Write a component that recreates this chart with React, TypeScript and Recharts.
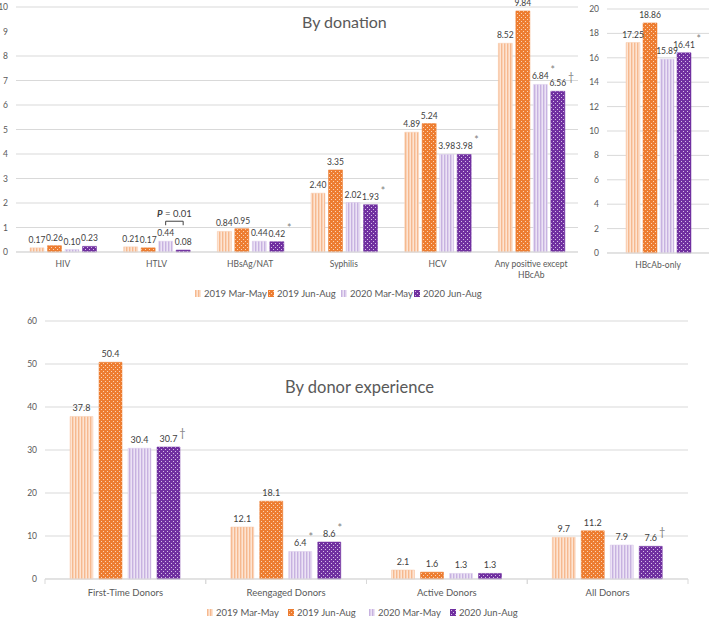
import React from "react";
import { BarChart, Bar, XAxis, YAxis, CartesianGrid, LabelList } from "recharts";

const seriesNames = ["2019 Mar-May", "2019 Jun-Aug", "2020 Mar-May", "2020 Jun-Aug"];

// by donation
const donationCats = ["HIV", "HTLV", "HBsAg/NAT", "Syphilis", "HCV", "Any positive except HBcAb"];
const don2019MarMay = [0.17, 0.21, 0.84, 2.4, 4.89, 8.52];
const don2019JunAug = [0.26, 0.17, 0.95, 3.35, 5.24, 9.84];
const don2020MarMay = [0.1, 0.44, 0.44, 2.02, 3.98, 6.84];
const don2020JunAug = [0.23, 0.08, 0.42, 1.93, 3.98, 6.56];
const donMarks2020MarMay = ["", "", "", "", "", "*"];
const donMarks2020JunAug = ["", "", "*", "*", "*", "†"];
const donTicks = [0, 1, 2, 3, 4, 5, 6, 7, 8, 9, 10];

// HBcAb-only panel
const hbcCats = ["HBcAb-only"];
const hbc2019MarMay = [17.25];
const hbc2019JunAug = [18.86];
const hbc2020MarMay = [15.89];
const hbc2020JunAug = [16.41];
const hbcMarks2020JunAug = ["*"];
const hbcTicks = [0, 2, 4, 6, 8, 10, 12, 14, 16, 18, 20];

// by donor experience
const expCats = ["First-Time Donors", "Reengaged Donors", "Active Donors", "All Donors"];
const exp2019MarMay = [37.8, 12.1, 2.1, 9.7];
const exp2019JunAug = [50.4, 18.1, 1.6, 11.2];
const exp2020MarMay = [30.4, 6.4, 1.3, 7.9];
const exp2020JunAug = [30.7, 8.6, 1.3, 7.6];
const expMarks2020MarMay = ["", "*", "", ""];
const expMarks2020JunAug = ["†", "*", "", "†"];
const expTicks = [0, 10, 20, 30, 40, 50, 60];

const noMarks: string[] = [];

const fills = ["url(#pPeach)", "url(#pOrange)", "url(#pLav)", "url(#pPurple)"];
const strokes = ["#f8cbad", "#ed7d31", "#d9c8ea", "#7030a0"];

const buildRows = (cats: string[], a: number[], b: number[], c: number[], d: number[]) =>
  cats.map((name, i) => ({ name, s0: a[i], s1: b[i], s2: c[i], s3: d[i] }));

const donRows = buildRows(donationCats, don2019MarMay, don2019JunAug, don2020MarMay, don2020JunAug);
const hbcRows = buildRows(hbcCats, hbc2019MarMay, hbc2019JunAug, hbc2020MarMay, hbc2020JunAug);
const expRows = buildRows(expCats, exp2019MarMay, exp2019JunAug, exp2020MarMay, exp2020JunAug);

const font = "Lato, 'Noto Sans', sans-serif";
const textGray = "#595959";
const labelGray = "#404040";

function makeLabel(marks: string[], digits: number, size: number, bracket?: { index: number; gap: number }) {
  return (props: any) => {
    const { x, y, width, value, index } = props;
    const cx = Number(x) + Number(width) / 2;
    const top = Number(y);
    const txt = Number(value).toFixed(digits);
    const mark = marks[index] || "";
    const half = txt.length * size * 0.27;
    let br = null;
    if (bracket && bracket.index === index) {
      const x2 = cx + Number(width) + bracket.gap;
      const by = top - 20;
      br = (
        <g>
          <path d={`M${cx},${by + 4}V${by}H${x2}V${by + 4}`} fill="none" stroke={labelGray} strokeWidth={1} />
          <text x={(cx + x2) / 2} y={by - 4} textAnchor="middle" fontSize={size + 1} fill={labelGray}>
            <tspan fontStyle="italic" fontWeight="bold">P</tspan> = 0.01
          </text>
        </g>
      );
    }
    return (
      <g>
        <text x={cx} y={top - 5} textAnchor="middle" fontSize={size} fill={labelGray}>{txt}</text>
        {mark && (
          <text x={cx + half + 1} y={top - 10} fontSize={size + 2} fill="#7f7f7f">{mark}</text>
        )}
        {br}
      </g>
    );
  };
}

// greedy word wrap by estimated width
function wrapWords(s: string, size: number, wrap: number) {
  const words = s.split(" ");
  const lines: string[] = [];
  let cur = "";
  words.forEach((w) => {
    const next = cur ? cur + " " + w : w;
    if (cur && next.length * size * 0.5 > wrap) {
      lines.push(cur);
      cur = w;
    } else {
      cur = next;
    }
  });
  if (cur) lines.push(cur);
  return lines;
}

function WrapTick(props: any) {
  const { x, y, payload, size, wrap, dy, band } = props;
  const lines = wrapWords(String(payload.value), size, wrap);
  return (
    <g>
      {band ? (
        <g>
          <line x1={x - band / 2} x2={x - band / 2} y1={y - 8} y2={y - 3} stroke="#d9d9d9" />
          <line x1={x + band / 2} x2={x + band / 2} y1={y - 8} y2={y - 3} stroke="#d9d9d9" />
        </g>
      ) : null}
      <text x={x} y={y + (dy || 0) + size * 0.9} textAnchor="middle" fontSize={size} fill={textGray}>
        {lines.map((l, i) => (
          <tspan key={i} x={x} dy={i === 0 ? 0 : size * 1.35}>{l}</tspan>
        ))}
      </text>
    </g>
  );
}

function seriesBars(marksC: string[], marksD: string[], digits: number, size: number, bracket?: { index: number; gap: number }) {
  const allMarks = [noMarks, noMarks, marksC, marksD];
  return seriesNames.map((n, i) => (
    <Bar key={n} dataKey={`s${i}`} name={n} fill={fills[i]} stroke={strokes[i]} strokeWidth={0.5} isAnimationActive={false}>
      <LabelList dataKey={`s${i}`} content={makeLabel(allMarks[i], digits, size, i === 2 ? bracket : undefined)} />
    </Bar>
  ));
}

function LegendRow({ left, top, step }: { left: number; top: number; step: number }) {
  return (
    <div style={{ position: "absolute", left, top, display: "flex", alignItems: "center", fontSize: 9.5, color: textGray, whiteSpace: "nowrap" }}>
      {seriesNames.map((n, i) => (
        <div key={n} style={{ display: "flex", alignItems: "center", width: step }}>
          <svg width={6} height={7} style={{ marginRight: 3 }}>
            <rect x={0} y={0} width={6} height={7} fill={fills[i]} />
          </svg>
          <span>{n}</span>
        </div>
      ))}
    </div>
  );
}

const expChartWidth = 690;
const expYWidth = 45;
const expRight = 2;
const expBand = (expChartWidth - expYWidth - expRight) / expCats.length;

export default function App() {
  return (
    <div style={{ position: "absolute", left: 0, top: 0, width: 709, height: 619, background: "#fff", fontFamily: font, overflow: "hidden" }}>
      <svg width={0} height={0} style={{ position: "absolute" }}>
        <defs>
          <pattern id="pPeach" width={3} height={3} patternUnits="userSpaceOnUse">
            <rect width={3} height={3} fill="#fde4d2" />
            <rect width={1.4} height={3} fill="#f6b98f" />
          </pattern>
          <pattern id="pOrange" width={4} height={4} patternUnits="userSpaceOnUse">
            <rect width={4} height={4} fill="#ed7d31" />
            <rect x={1} y={1} width={1} height={1} fill="#fbd3b5" />
            <rect x={3} y={3} width={1} height={1} fill="#fbd3b5" />
          </pattern>
          <pattern id="pLav" width={3} height={3} patternUnits="userSpaceOnUse">
            <rect width={3} height={3} fill="#ece3f5" />
            <rect width={1.4} height={3} fill="#c7b2e0" />
          </pattern>
          <pattern id="pPurple" width={4} height={4} patternUnits="userSpaceOnUse">
            <rect width={4} height={4} fill="#7030a0" />
            <rect x={1} y={1} width={1} height={1} fill="#d6bfe8" />
            <rect x={3} y={3} width={1} height={1} fill="#d6bfe8" />
          </pattern>
        </defs>
      </svg>

      <div style={{ position: "absolute", left: 0, top: 0 }}>
        <BarChart width={580} height={282} data={donRows} margin={{ top: 7, right: 2, left: 0, bottom: 0 }} barSize={14} barGap={3.5}>
          <CartesianGrid vertical={false} stroke="#d9d9d9" />
          <XAxis dataKey="name" height={30} axisLine={{ stroke: "#d9d9d9" }} tickLine={false}
            tick={<WrapTick size={8.5} wrap={90} dy={-1} />} interval={0} />
          <YAxis width={16} domain={[0, 10]} ticks={donTicks} axisLine={false} tickLine={false}
            tick={{ fontSize: 8.5, fill: textGray }} />
          {seriesBars(donMarks2020MarMay, donMarks2020JunAug, 2, 8.5, { index: 1, gap: 3.5 })}
        </BarChart>
      </div>

      <div style={{ position: "absolute", left: 580, top: 0 }}>
        <BarChart width={129} height={283} data={hbcRows} margin={{ top: 9, right: 0, left: 0, bottom: 0 }} barSize={14} barGap={3}>
          <CartesianGrid vertical={false} stroke="#d9d9d9" />
          <XAxis dataKey="name" height={30} axisLine={{ stroke: "#d9d9d9" }} tickLine={false}
            tick={<WrapTick size={8.5} wrap={90} dy={-1} />} interval={0} />
          <YAxis width={27} domain={[0, 20]} ticks={hbcTicks} axisLine={false} tickLine={false}
            tick={{ fontSize: 8.5, fill: textGray }} />
          {seriesBars(noMarks, hbcMarks2020JunAug, 2, 8.5)}
        </BarChart>
      </div>

      <div style={{ position: "absolute", left: 302, top: 12, fontSize: 16, color: textGray }}>By donation</div>
      <LegendRow left={195} top={288} step={73} />

      <div style={{ position: "absolute", left: 0, top: 300 }}>
        <BarChart width={expChartWidth} height={309} data={expRows} margin={{ top: 21, right: expRight, left: 0, bottom: 0 }} barSize={23} barGap={6}>
          <CartesianGrid vertical={false} stroke="#d9d9d9" />
          <XAxis dataKey="name" height={30} axisLine={{ stroke: "#d9d9d9" }} tickLine={false}
            tick={<WrapTick size={9.5} wrap={150} dy={0} band={expBand} />} interval={0} />
          <YAxis width={expYWidth} domain={[0, 60]} ticks={expTicks} axisLine={false} tickLine={false}
            tick={{ fontSize: 8.5, fill: textGray }} />
          {seriesBars(expMarks2020MarMay, expMarks2020JunAug, 1, 9)}
        </BarChart>
      </div>

      <div style={{ position: "absolute", left: 285, top: 377, fontSize: 16.5, color: textGray }}>By donor experience</div>
      <LegendRow left={207} top={607} step={81} />
    </div>
  );
}
